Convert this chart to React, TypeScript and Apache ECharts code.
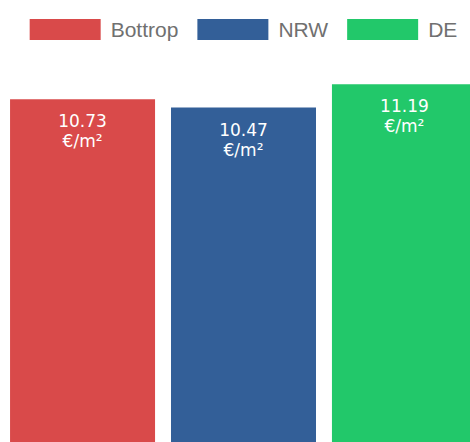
import React, { useEffect, useRef } from "react";
import * as echarts from "echarts";

const seriesNames = ["Bottrop", "NRW", "DE"];
const seriesValues = [10.73, 10.47, 11.19];
const seriesColors = ["#d94a4a", "#335f98", "#22c86a"];
const unit = "€/m²";
const categories = [""];

export default function App() {
  const ref = useRef<HTMLDivElement>(null);
  useEffect(() => {
    if (!ref.current) return;
    const chart = echarts.init(ref.current, undefined, { renderer: "svg" });
    chart.setOption({
      animation: false,
      legend: {
        top: 14,
        left: "center",
        itemWidth: 71,
        itemHeight: 21,
        itemGap: 19,
        icon: "rect",
        data: seriesNames,
        textStyle: {
          fontFamily: "Liberation Sans",
          fontSize: 21,
          color: "#707070",
          padding: [0, 0, 0, 5],
        },
      },
      grid: { left: 0, right: 0, top: 58, bottom: 0 },
      xAxis: { type: "category", data: categories, show: false },
      yAxis: { type: "value", min: 0, max: 12, show: false },
      series: seriesNames.map((name, i) => ({
        name,
        type: "bar",
        barWidth: 145,
        barGap: "11%",
        data: [seriesValues[i]],
        itemStyle: { color: seriesColors[i] },
        label: {
          show: true,
          position: "insideTop",
          distance: 12,
          color: "#ffffff",
          fontFamily: "DejaVu Sans",
          fontSize: 17,
          lineHeight: 20,
          formatter: (p: any) => `${p.value.toFixed(2)}\n${unit}`,
        },
      })),
    });
    return () => chart.dispose();
  }, []);
  return (
    <div style={{ position: "fixed", left: 0, top: 0, width: 470, height: 442, overflow: "hidden", background: "#fff" }}>
      <div ref={ref} style={{ width: 487, height: 447 }} />
    </div>
  );
}
